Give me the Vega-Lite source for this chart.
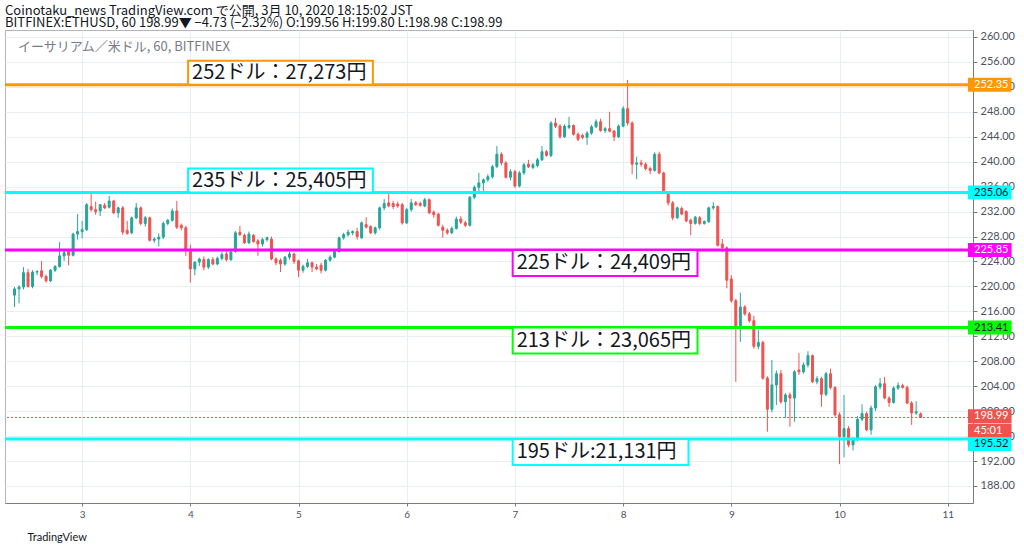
{
  "$schema": "https://vega.github.io/schema/vega-lite/v6.json",
  "description": "ETH/USD 1h candles on Bitfinex, 2-10 March 2020, with marked price levels",
  "autosize": {"type": "none"},
  "width": 968,
  "height": 473,
  "padding": {"left": 5, "top": 30, "right": 51, "bottom": 49},
  "background": "white",
  "title": {
    "text": "Coinotaku_news TradingView.com で公開, 3月 10, 2020 18:15:02 JST",
    "subtitle": "BITFINEX:ETHUSD, 60 198.99▼ −4.73 (−2.32%) O:199.56 H:199.80 L:198.98 C:198.99",
    "anchor": "start",
    "frame": "group",
    "offset": 0,
    "font": "Noto Sans CJK JP",
    "fontSize": 13,
    "fontWeight": "normal",
    "color": "#131722",
    "subtitleFont": "Noto Sans CJK JP",
    "subtitleFontSize": 13,
    "subtitleColor": "#131722",
    "subtitlePadding": -1
  },
  "config": {
    "view": {"stroke": "#b2b5be"},
    "axisY": {"labelOverlap": false, "labelSeparation": 0, "labelBound": false}
  },
  "datasets": {
    "candles": [
      {"t": "2020-03-02T09:00", "o": 218.6, "h": 219.9, "l": 216.7, "c": 219.6},
      {"t": "2020-03-02T10:00", "o": 219.6, "h": 220.2, "l": 217.3, "c": 219.9},
      {"t": "2020-03-02T11:00", "o": 219.9, "h": 223.1, "l": 219.5, "c": 222.2},
      {"t": "2020-03-02T12:00", "o": 222.2, "h": 222.8, "l": 219.8, "c": 220.0},
      {"t": "2020-03-02T13:00", "o": 220.0, "h": 222.6, "l": 219.7, "c": 222.3},
      {"t": "2020-03-02T14:00", "o": 222.3, "h": 222.6, "l": 221.8, "c": 222.4},
      {"t": "2020-03-02T15:00", "o": 222.5, "h": 224.1, "l": 221.3, "c": 221.6},
      {"t": "2020-03-02T16:00", "o": 221.6, "h": 221.9, "l": 220.6, "c": 220.9},
      {"t": "2020-03-02T17:00", "o": 220.9, "h": 222.8, "l": 220.7, "c": 222.6},
      {"t": "2020-03-02T18:00", "o": 222.6, "h": 223.4, "l": 222.3, "c": 223.2},
      {"t": "2020-03-02T19:00", "o": 223.2, "h": 227.1, "l": 223.0, "c": 224.9},
      {"t": "2020-03-02T20:00", "o": 224.9, "h": 225.7, "l": 224.1, "c": 225.4},
      {"t": "2020-03-02T21:00", "o": 225.6, "h": 226.0, "l": 223.4, "c": 225.0},
      {"t": "2020-03-02T22:00", "o": 225.0, "h": 228.6, "l": 224.8, "c": 228.4},
      {"t": "2020-03-02T23:00", "o": 228.4, "h": 231.6, "l": 227.5, "c": 228.8},
      {"t": "2020-03-03T00:00", "o": 228.8, "h": 230.5, "l": 227.7, "c": 229.1},
      {"t": "2020-03-03T01:00", "o": 229.1, "h": 233.4, "l": 228.9, "c": 233.1},
      {"t": "2020-03-03T02:00", "o": 232.8, "h": 235.3, "l": 232.0, "c": 232.3},
      {"t": "2020-03-03T03:00", "o": 232.3, "h": 233.6, "l": 231.5, "c": 232.0},
      {"t": "2020-03-03T04:00", "o": 232.1, "h": 233.2, "l": 231.3, "c": 233.1},
      {"t": "2020-03-03T05:00", "o": 233.0, "h": 233.4, "l": 232.4, "c": 232.6},
      {"t": "2020-03-03T06:00", "o": 232.7, "h": 234.5, "l": 232.5, "c": 233.7},
      {"t": "2020-03-03T07:00", "o": 233.7, "h": 233.9, "l": 231.6, "c": 231.8},
      {"t": "2020-03-03T08:00", "o": 231.8, "h": 232.8, "l": 231.0, "c": 232.6},
      {"t": "2020-03-03T09:00", "o": 232.6, "h": 232.9, "l": 228.3, "c": 228.7},
      {"t": "2020-03-03T10:00", "o": 229.0, "h": 230.5, "l": 228.3, "c": 228.5},
      {"t": "2020-03-03T11:00", "o": 228.6, "h": 231.2, "l": 228.4, "c": 231.0},
      {"t": "2020-03-03T12:00", "o": 231.0, "h": 233.4, "l": 230.8, "c": 232.6},
      {"t": "2020-03-03T13:00", "o": 232.6, "h": 232.8, "l": 229.8, "c": 230.1},
      {"t": "2020-03-03T14:00", "o": 230.1, "h": 231.3, "l": 229.6, "c": 231.0},
      {"t": "2020-03-03T15:00", "o": 231.0, "h": 231.2, "l": 227.2, "c": 227.4},
      {"t": "2020-03-03T16:00", "o": 227.4, "h": 227.9, "l": 227.0, "c": 227.6},
      {"t": "2020-03-03T17:00", "o": 227.6, "h": 228.5, "l": 226.4, "c": 227.9},
      {"t": "2020-03-03T18:00", "o": 227.9, "h": 230.4, "l": 227.6, "c": 230.1},
      {"t": "2020-03-03T19:00", "o": 230.1, "h": 230.8, "l": 229.8, "c": 230.6},
      {"t": "2020-03-03T20:00", "o": 230.6, "h": 232.5, "l": 230.4, "c": 232.1},
      {"t": "2020-03-03T21:00", "o": 232.1, "h": 233.7, "l": 229.2, "c": 229.5},
      {"t": "2020-03-03T22:00", "o": 229.8, "h": 230.1, "l": 229.0, "c": 229.4},
      {"t": "2020-03-03T23:00", "o": 229.4, "h": 229.7, "l": 224.9, "c": 226.0},
      {"t": "2020-03-04T00:00", "o": 225.8, "h": 226.7, "l": 220.6, "c": 222.8},
      {"t": "2020-03-04T01:00", "o": 222.8, "h": 224.0, "l": 221.8, "c": 223.9},
      {"t": "2020-03-04T02:00", "o": 223.9, "h": 224.6, "l": 223.3, "c": 224.4},
      {"t": "2020-03-04T03:00", "o": 224.3, "h": 224.8, "l": 222.6, "c": 223.1},
      {"t": "2020-03-04T04:00", "o": 223.1, "h": 224.5, "l": 222.8, "c": 224.3},
      {"t": "2020-03-04T05:00", "o": 224.3, "h": 224.7, "l": 223.4, "c": 223.6},
      {"t": "2020-03-04T06:00", "o": 223.6, "h": 224.8, "l": 223.4, "c": 224.5},
      {"t": "2020-03-04T07:00", "o": 224.5, "h": 225.5, "l": 224.2, "c": 225.1},
      {"t": "2020-03-04T08:00", "o": 225.2, "h": 225.6, "l": 224.0, "c": 224.3},
      {"t": "2020-03-04T09:00", "o": 224.3, "h": 225.8, "l": 224.1, "c": 225.5},
      {"t": "2020-03-04T10:00", "o": 225.6, "h": 228.9, "l": 225.4, "c": 228.6},
      {"t": "2020-03-04T11:00", "o": 228.7, "h": 229.7, "l": 228.1, "c": 228.3},
      {"t": "2020-03-04T12:00", "o": 228.2, "h": 228.5, "l": 226.8, "c": 227.0},
      {"t": "2020-03-04T13:00", "o": 227.0, "h": 228.8, "l": 226.8, "c": 228.4},
      {"t": "2020-03-04T14:00", "o": 228.2, "h": 228.4, "l": 227.0, "c": 227.2},
      {"t": "2020-03-04T15:00", "o": 227.3, "h": 227.6, "l": 224.9, "c": 226.8},
      {"t": "2020-03-04T16:00", "o": 226.8, "h": 227.8, "l": 226.4, "c": 227.5},
      {"t": "2020-03-04T17:00", "o": 227.5, "h": 228.0, "l": 227.2, "c": 227.8},
      {"t": "2020-03-04T18:00", "o": 227.6, "h": 228.0, "l": 224.2, "c": 224.4},
      {"t": "2020-03-04T19:00", "o": 224.4, "h": 224.7, "l": 223.4, "c": 223.8},
      {"t": "2020-03-04T20:00", "o": 224.2, "h": 224.5, "l": 222.3, "c": 223.6},
      {"t": "2020-03-04T21:00", "o": 223.6, "h": 224.9, "l": 223.3, "c": 224.7},
      {"t": "2020-03-04T22:00", "o": 224.7, "h": 225.6, "l": 224.3, "c": 225.2},
      {"t": "2020-03-04T23:00", "o": 225.2, "h": 225.4, "l": 223.6, "c": 224.0},
      {"t": "2020-03-05T00:00", "o": 224.1, "h": 224.3, "l": 221.5, "c": 222.6},
      {"t": "2020-03-05T01:00", "o": 222.6, "h": 223.5, "l": 222.2, "c": 223.2},
      {"t": "2020-03-05T02:00", "o": 223.2, "h": 224.4, "l": 222.9, "c": 223.8},
      {"t": "2020-03-05T03:00", "o": 223.8, "h": 224.0, "l": 222.3, "c": 223.1},
      {"t": "2020-03-05T04:00", "o": 223.1, "h": 223.6, "l": 222.6, "c": 222.8},
      {"t": "2020-03-05T05:00", "o": 223.4, "h": 223.8, "l": 222.1, "c": 222.6},
      {"t": "2020-03-05T06:00", "o": 222.6, "h": 224.4, "l": 222.4, "c": 224.2},
      {"t": "2020-03-05T07:00", "o": 224.2, "h": 225.0, "l": 224.0, "c": 224.7},
      {"t": "2020-03-05T08:00", "o": 224.7, "h": 225.9, "l": 224.5, "c": 225.6},
      {"t": "2020-03-05T09:00", "o": 225.6, "h": 228.0, "l": 225.4, "c": 227.8},
      {"t": "2020-03-05T10:00", "o": 227.8, "h": 228.6, "l": 227.5, "c": 228.3},
      {"t": "2020-03-05T11:00", "o": 228.3, "h": 229.1, "l": 228.0, "c": 228.7},
      {"t": "2020-03-05T12:00", "o": 228.6, "h": 229.0, "l": 228.2, "c": 228.8},
      {"t": "2020-03-05T13:00", "o": 228.8, "h": 229.4, "l": 227.5, "c": 228.0},
      {"t": "2020-03-05T14:00", "o": 227.8, "h": 230.4, "l": 227.6, "c": 230.2},
      {"t": "2020-03-05T15:00", "o": 229.9, "h": 231.1, "l": 229.3, "c": 229.5},
      {"t": "2020-03-05T16:00", "o": 229.6, "h": 229.8, "l": 228.4, "c": 228.6},
      {"t": "2020-03-05T17:00", "o": 228.6, "h": 229.6, "l": 228.3, "c": 229.4},
      {"t": "2020-03-05T18:00", "o": 229.4, "h": 232.8, "l": 229.1, "c": 232.6},
      {"t": "2020-03-05T19:00", "o": 232.6, "h": 234.0, "l": 232.2, "c": 233.3},
      {"t": "2020-03-05T20:00", "o": 233.4, "h": 235.3, "l": 232.7, "c": 232.9},
      {"t": "2020-03-05T21:00", "o": 233.3, "h": 233.7, "l": 232.4, "c": 232.8},
      {"t": "2020-03-05T22:00", "o": 233.2, "h": 233.6, "l": 232.6, "c": 232.9},
      {"t": "2020-03-05T23:00", "o": 233.1, "h": 233.4, "l": 229.9, "c": 230.2},
      {"t": "2020-03-06T00:00", "o": 230.2, "h": 232.6, "l": 230.0, "c": 232.3},
      {"t": "2020-03-06T01:00", "o": 232.3, "h": 234.0, "l": 232.0, "c": 233.4},
      {"t": "2020-03-06T02:00", "o": 233.4, "h": 233.7, "l": 232.9, "c": 233.1},
      {"t": "2020-03-06T03:00", "o": 233.3, "h": 233.6, "l": 232.8, "c": 233.0},
      {"t": "2020-03-06T04:00", "o": 232.9, "h": 234.2, "l": 232.7, "c": 233.9},
      {"t": "2020-03-06T05:00", "o": 233.9, "h": 234.1, "l": 231.6, "c": 231.8},
      {"t": "2020-03-06T06:00", "o": 231.9, "h": 232.2, "l": 231.0, "c": 231.5},
      {"t": "2020-03-06T07:00", "o": 231.6, "h": 231.8, "l": 229.6, "c": 229.8},
      {"t": "2020-03-06T08:00", "o": 229.5, "h": 229.9, "l": 227.8, "c": 229.0},
      {"t": "2020-03-06T09:00", "o": 229.0, "h": 229.3, "l": 228.3, "c": 228.6},
      {"t": "2020-03-06T10:00", "o": 228.6, "h": 229.6, "l": 228.4, "c": 229.3},
      {"t": "2020-03-06T11:00", "o": 229.3, "h": 231.2, "l": 229.1, "c": 230.8},
      {"t": "2020-03-06T12:00", "o": 230.8, "h": 231.3, "l": 230.0, "c": 230.3},
      {"t": "2020-03-06T13:00", "o": 230.2, "h": 230.5, "l": 229.5, "c": 229.8},
      {"t": "2020-03-06T14:00", "o": 229.8, "h": 234.5, "l": 229.6, "c": 234.3},
      {"t": "2020-03-06T15:00", "o": 234.3, "h": 236.2, "l": 234.0, "c": 235.9},
      {"t": "2020-03-06T16:00", "o": 235.9, "h": 238.2, "l": 235.1, "c": 236.6},
      {"t": "2020-03-06T17:00", "o": 236.6, "h": 237.3, "l": 235.0, "c": 237.1},
      {"t": "2020-03-06T18:00", "o": 237.1, "h": 238.0, "l": 236.8, "c": 237.6},
      {"t": "2020-03-06T19:00", "o": 237.6, "h": 239.5, "l": 237.3, "c": 239.2},
      {"t": "2020-03-06T20:00", "o": 239.2, "h": 242.5, "l": 239.0, "c": 241.2},
      {"t": "2020-03-06T21:00", "o": 241.2, "h": 241.5, "l": 239.4, "c": 239.8},
      {"t": "2020-03-06T22:00", "o": 239.8, "h": 240.1, "l": 237.3, "c": 237.5},
      {"t": "2020-03-06T23:00", "o": 237.5, "h": 238.8, "l": 237.0, "c": 238.4},
      {"t": "2020-03-07T00:00", "o": 238.4, "h": 238.7, "l": 235.8, "c": 236.1},
      {"t": "2020-03-07T01:00", "o": 236.1, "h": 238.5, "l": 235.9, "c": 238.2},
      {"t": "2020-03-07T02:00", "o": 238.2, "h": 239.8, "l": 237.9, "c": 239.5},
      {"t": "2020-03-07T03:00", "o": 239.6, "h": 240.3, "l": 239.0, "c": 239.2},
      {"t": "2020-03-07T04:00", "o": 239.1, "h": 239.8, "l": 238.8, "c": 239.5},
      {"t": "2020-03-07T05:00", "o": 239.4, "h": 240.6, "l": 239.1, "c": 240.3},
      {"t": "2020-03-07T06:00", "o": 240.3, "h": 242.5, "l": 240.1, "c": 241.6},
      {"t": "2020-03-07T07:00", "o": 241.6, "h": 241.9, "l": 240.8, "c": 241.0},
      {"t": "2020-03-07T08:00", "o": 241.0, "h": 246.5, "l": 240.7, "c": 246.2},
      {"t": "2020-03-07T09:00", "o": 246.2, "h": 247.0, "l": 245.4, "c": 245.7},
      {"t": "2020-03-07T10:00", "o": 245.7, "h": 246.0, "l": 243.7, "c": 244.0},
      {"t": "2020-03-07T11:00", "o": 244.0, "h": 246.0, "l": 243.8, "c": 245.7},
      {"t": "2020-03-07T12:00", "o": 245.5, "h": 247.2, "l": 245.2, "c": 245.8},
      {"t": "2020-03-07T13:00", "o": 245.8, "h": 246.0, "l": 244.2, "c": 244.4},
      {"t": "2020-03-07T14:00", "o": 244.4, "h": 244.7, "l": 243.3, "c": 243.6},
      {"t": "2020-03-07T15:00", "o": 244.2, "h": 244.5, "l": 243.6, "c": 243.9},
      {"t": "2020-03-07T16:00", "o": 243.9, "h": 244.9, "l": 242.7, "c": 244.6},
      {"t": "2020-03-07T17:00", "o": 244.6, "h": 245.9, "l": 244.3, "c": 245.6},
      {"t": "2020-03-07T18:00", "o": 245.6, "h": 246.8, "l": 245.4, "c": 246.4},
      {"t": "2020-03-07T19:00", "o": 246.4, "h": 246.9, "l": 244.8, "c": 245.0},
      {"t": "2020-03-07T20:00", "o": 245.0, "h": 245.6, "l": 244.6, "c": 245.3},
      {"t": "2020-03-07T21:00", "o": 245.3, "h": 248.0, "l": 244.7, "c": 244.9},
      {"t": "2020-03-07T22:00", "o": 244.9, "h": 245.1, "l": 243.3, "c": 244.0},
      {"t": "2020-03-07T23:00", "o": 244.0, "h": 246.0, "l": 243.8, "c": 245.7},
      {"t": "2020-03-08T00:00", "o": 245.7, "h": 248.9, "l": 245.5, "c": 248.5},
      {"t": "2020-03-08T01:00", "o": 248.5, "h": 253.1, "l": 245.8, "c": 246.2},
      {"t": "2020-03-08T02:00", "o": 246.2, "h": 246.5, "l": 238.0, "c": 239.6},
      {"t": "2020-03-08T03:00", "o": 239.6, "h": 240.8, "l": 237.2, "c": 239.8},
      {"t": "2020-03-08T04:00", "o": 239.8, "h": 240.3, "l": 239.2, "c": 239.6},
      {"t": "2020-03-08T05:00", "o": 239.6, "h": 239.9, "l": 238.6, "c": 238.9},
      {"t": "2020-03-08T06:00", "o": 238.9, "h": 239.2, "l": 238.0, "c": 238.6},
      {"t": "2020-03-08T07:00", "o": 238.6, "h": 241.5, "l": 238.4, "c": 241.2},
      {"t": "2020-03-08T08:00", "o": 241.2, "h": 241.6, "l": 238.0, "c": 238.2},
      {"t": "2020-03-08T09:00", "o": 238.2, "h": 238.4, "l": 234.8, "c": 235.0},
      {"t": "2020-03-08T10:00", "o": 235.0, "h": 235.2, "l": 233.0, "c": 233.4},
      {"t": "2020-03-08T11:00", "o": 233.4, "h": 233.7, "l": 230.6, "c": 231.0},
      {"t": "2020-03-08T12:00", "o": 231.0, "h": 232.8, "l": 230.8, "c": 232.6},
      {"t": "2020-03-08T13:00", "o": 232.5, "h": 232.8, "l": 231.4, "c": 231.6},
      {"t": "2020-03-08T14:00", "o": 232.0, "h": 232.2, "l": 230.3, "c": 230.5},
      {"t": "2020-03-08T15:00", "o": 230.6, "h": 230.9, "l": 228.2, "c": 230.1},
      {"t": "2020-03-08T16:00", "o": 230.1, "h": 231.3, "l": 229.9, "c": 231.1},
      {"t": "2020-03-08T17:00", "o": 231.0, "h": 231.3, "l": 229.8, "c": 230.1},
      {"t": "2020-03-08T18:00", "o": 230.1, "h": 230.6, "l": 229.9, "c": 230.4},
      {"t": "2020-03-08T19:00", "o": 230.4, "h": 232.8, "l": 230.2, "c": 232.6},
      {"t": "2020-03-08T20:00", "o": 232.6, "h": 233.5, "l": 232.3, "c": 232.8},
      {"t": "2020-03-08T21:00", "o": 232.8, "h": 233.0, "l": 226.4, "c": 226.6},
      {"t": "2020-03-08T22:00", "o": 226.8, "h": 227.6, "l": 225.5, "c": 226.2},
      {"t": "2020-03-08T23:00", "o": 226.2, "h": 226.4, "l": 219.7, "c": 221.0},
      {"t": "2020-03-09T00:00", "o": 221.2, "h": 221.8, "l": 217.4, "c": 217.7},
      {"t": "2020-03-09T01:00", "o": 217.7, "h": 218.0, "l": 204.7, "c": 213.5},
      {"t": "2020-03-09T02:00", "o": 213.5, "h": 219.0, "l": 211.1, "c": 216.7},
      {"t": "2020-03-09T03:00", "o": 216.7, "h": 217.0, "l": 215.3, "c": 215.6},
      {"t": "2020-03-09T04:00", "o": 215.6, "h": 215.9, "l": 214.2, "c": 214.5},
      {"t": "2020-03-09T05:00", "o": 214.5, "h": 215.3, "l": 210.0, "c": 210.4},
      {"t": "2020-03-09T06:00", "o": 210.4, "h": 213.0, "l": 209.9, "c": 211.0},
      {"t": "2020-03-09T07:00", "o": 211.0, "h": 211.3, "l": 205.0, "c": 205.3},
      {"t": "2020-03-09T08:00", "o": 205.3, "h": 205.6, "l": 196.7, "c": 200.3},
      {"t": "2020-03-09T09:00", "o": 200.3, "h": 208.2, "l": 199.8, "c": 204.2},
      {"t": "2020-03-09T10:00", "o": 204.2, "h": 206.5, "l": 201.0, "c": 206.0},
      {"t": "2020-03-09T11:00", "o": 206.0, "h": 206.6, "l": 201.2, "c": 201.5},
      {"t": "2020-03-09T12:00", "o": 201.5, "h": 202.9, "l": 198.9, "c": 202.6},
      {"t": "2020-03-09T13:00", "o": 202.6, "h": 203.0, "l": 197.5, "c": 202.1},
      {"t": "2020-03-09T14:00", "o": 202.1, "h": 206.6, "l": 198.3, "c": 206.3},
      {"t": "2020-03-09T15:00", "o": 206.6, "h": 209.3, "l": 205.8, "c": 206.3},
      {"t": "2020-03-09T16:00", "o": 206.3, "h": 207.8, "l": 206.0, "c": 207.4},
      {"t": "2020-03-09T17:00", "o": 207.4, "h": 209.6, "l": 207.0, "c": 208.9},
      {"t": "2020-03-09T18:00", "o": 208.9, "h": 209.1, "l": 204.5, "c": 204.7},
      {"t": "2020-03-09T19:00", "o": 204.7, "h": 205.6, "l": 204.3, "c": 205.2},
      {"t": "2020-03-09T20:00", "o": 205.2, "h": 205.5, "l": 200.7, "c": 202.7},
      {"t": "2020-03-09T21:00", "o": 202.7, "h": 206.3, "l": 202.4, "c": 206.0},
      {"t": "2020-03-09T22:00", "o": 206.0, "h": 206.8, "l": 203.5, "c": 203.8},
      {"t": "2020-03-09T23:00", "o": 203.8, "h": 204.0, "l": 199.1, "c": 199.4},
      {"t": "2020-03-10T00:00", "o": 199.4, "h": 199.8, "l": 191.5, "c": 195.9},
      {"t": "2020-03-10T01:00", "o": 195.9, "h": 202.6, "l": 192.6, "c": 197.2},
      {"t": "2020-03-10T02:00", "o": 197.2, "h": 197.6, "l": 194.2, "c": 194.6},
      {"t": "2020-03-10T03:00", "o": 194.6, "h": 195.8, "l": 193.7, "c": 195.5},
      {"t": "2020-03-10T04:00", "o": 195.5, "h": 199.2, "l": 195.2, "c": 198.7},
      {"t": "2020-03-10T05:00", "o": 198.7, "h": 201.1, "l": 198.4, "c": 199.6},
      {"t": "2020-03-10T06:00", "o": 199.6, "h": 199.9, "l": 196.8, "c": 197.0},
      {"t": "2020-03-10T07:00", "o": 197.0, "h": 200.9, "l": 196.2, "c": 200.5},
      {"t": "2020-03-10T08:00", "o": 200.5, "h": 204.2, "l": 200.0, "c": 203.9},
      {"t": "2020-03-10T09:00", "o": 203.9, "h": 205.3, "l": 203.5, "c": 204.4},
      {"t": "2020-03-10T10:00", "o": 204.4, "h": 205.5, "l": 201.9, "c": 202.1},
      {"t": "2020-03-10T11:00", "o": 202.1, "h": 202.4, "l": 200.7, "c": 201.4},
      {"t": "2020-03-10T12:00", "o": 201.4, "h": 204.0, "l": 201.2, "c": 203.7},
      {"t": "2020-03-10T13:00", "o": 203.7, "h": 204.6, "l": 203.4, "c": 204.1},
      {"t": "2020-03-10T14:00", "o": 204.1, "h": 204.4, "l": 203.6, "c": 203.8},
      {"t": "2020-03-10T15:00", "o": 203.8, "h": 204.1, "l": 201.1, "c": 201.3},
      {"t": "2020-03-10T16:00", "o": 201.3, "h": 201.6, "l": 197.8, "c": 199.7},
      {"t": "2020-03-10T17:00", "o": 199.7, "h": 201.6, "l": 199.4, "c": 199.9},
      {"t": "2020-03-10T18:00", "o": 199.56, "h": 199.8, "l": 198.98, "c": 198.99}
    ],
    "levels": [
      {"name": "252", "price": 252.35, "label": "252ドル：27,273円", "from": "2020-03-03T23:30", "to": "2020-03-05T16:30", "side": "above"},
      {"name": "235", "price": 235.06, "label": "235ドル：25,405円", "from": "2020-03-03T23:30", "to": "2020-03-05T16:30", "side": "above"},
      {"name": "225", "price": 225.85, "label": "225ドル：24,409円", "from": "2020-03-06T23:30", "to": "2020-03-08T16:30", "side": "below"},
      {"name": "213", "price": 213.41, "label": "213ドル：23,065円", "from": "2020-03-06T23:30", "to": "2020-03-08T16:30", "side": "below"},
      {"name": "195", "price": 195.52, "label": "195ドル:21,131円", "from": "2020-03-06T23:30", "to": "2020-03-08T14:30", "side": "below"}
    ],
    "tags": [
      {"name": "252", "tag": "252.35", "at": 252.35},
      {"name": "235", "tag": "235.06", "at": 235.06},
      {"name": "225", "tag": "225.85", "at": 225.85},
      {"name": "213", "tag": "213.41", "at": 213.41},
      {"name": "last", "tag": "198.99", "at": 199.2},
      {"name": "timer", "tag": "45:01", "at": 196.85},
      {"name": "195", "tag": "195.52", "at": 194.75}
    ]
  },
  "layer": [
    {
      "data": {"name": "candles"},
      "mark": {"type": "rule", "strokeWidth": 1, "clip": true},
      "encoding": {
        "x": {
          "field": "t",
          "type": "temporal",
          "scale": {
            "domain": [
              {"year": 2020, "month": 3, "date": 2, "hours": 8},
              {"year": 2020, "month": 3, "date": 11, "hours": 4, "minutes": 30}
            ]
          },
          "axis": {
            "format": "%-d",
            "formatType": "time",
            "tickCount": {"interval": "day", "step": 1},
            "grid": true,
            "gridColor": "#e9eef4",
            "domainColor": "#787b86",
            "tickColor": "#787b86",
            "tickSize": 3,
            "labelFont": "Lato",
            "labelFontSize": 10,
            "labelColor": "#4c525e",
            "labelPadding": 3,
            "labelFlush": false,
            "title": "TradingView",
            "titleAnchor": "start",
            "titleAlign": "left",
            "titleBaseline": "middle",
            "titleX": 22,
            "titleY": 34,
            "titleFont": "Lato",
            "titleFontSize": 11,
            "titleFontWeight": "normal",
            "titleColor": "#131722"
          }
        },
        "y": {
          "field": "l",
          "type": "quantitative",
          "scale": {"domain": [185.27, 261.12], "nice": false, "zero": false},
          "axis": {
            "orient": "right",
            "values": [188, 192, 196, 200, 204, 208, 212, 216, 220, 224, 228, 232, 236, 240, 244, 248, 252, 256, 260],
            "tickCount": 19,
            "format": ".2f",
            "grid": true,
            "gridColor": "#e9eef4",
            "domainColor": "#787b86",
            "tickColor": "#787b86",
            "tickSize": 4,
            "labelFont": "Lato",
            "labelFontSize": 11,
            "labelColor": "#4c525e",
            "labelPadding": 3,
            "labelOverlap": false,
            "title": ""
          }
        },
        "y2": {"field": "h"},
        "color": {
          "condition": {"test": "datum.c >= datum.o", "value": "#26a69a"},
          "value": "#ef5350"
        }
      }
    },
    {
      "data": {"name": "candles"},
      "mark": {"type": "bar", "size": 2, "strokeWidth": 1, "clip": true},
      "encoding": {
        "x": {"field": "t", "type": "temporal"},
        "y": {"field": "o", "type": "quantitative"},
        "y2": {"field": "c"},
        "fill": {
          "condition": {"test": "datum.c >= datum.o", "value": "#26a69a"},
          "value": "#ef5350"
        },
        "stroke": {
          "condition": {"test": "datum.c >= datum.o", "value": "#26a69a"},
          "value": "#ef5350"
        }
      }
    },
    {
      "data": {"values": [{"price": 198.99}]},
      "mark": {"type": "rule", "color": "#ef5350", "strokeWidth": 1, "strokeDash": [2, 2]},
      "encoding": {
        "y": {"field": "price", "type": "quantitative"}
      }
    },
    {
      "data": {"name": "levels"},
      "mark": {"type": "rule", "strokeWidth": 3},
      "encoding": {
        "y": {"field": "price", "type": "quantitative"},
        "color": {
          "field": "name",
          "type": "nominal",
          "legend": null,
          "scale": {
            "domain": ["252", "235", "225", "213", "195", "last", "timer"],
            "range": ["#ff9800", "#00ffff", "#ff00ff", "#00ff00", "#00ffff", "#ef5350", "#ef5350"]
          }
        }
      }
    },
    {
      "data": {"name": "levels"},
      "transform": [{"filter": "datum.side == 'above'"}],
      "mark": {"type": "rect", "fill": "white", "strokeWidth": 2, "y2Offset": -24},
      "encoding": {
        "x": {"field": "from", "type": "temporal"},
        "x2": {"field": "to"},
        "y": {"field": "price", "type": "quantitative"},
        "y2": {"field": "price"},
        "stroke": {
          "field": "name",
          "type": "nominal",
          "legend": null,
          "scale": {
            "domain": ["252", "235", "225", "213", "195", "last", "timer"],
            "range": ["#ff9800", "#00ffff", "#ff00ff", "#00ff00", "#00ffff", "#ef5350", "#ef5350"]
          }
        }
      }
    },
    {
      "data": {"name": "levels"},
      "transform": [{"filter": "datum.side == 'below'"}],
      "mark": {"type": "rect", "fill": "white", "strokeWidth": 2, "y2Offset": 26},
      "encoding": {
        "x": {"field": "from", "type": "temporal"},
        "x2": {"field": "to"},
        "y": {"field": "price", "type": "quantitative"},
        "y2": {"field": "price"},
        "stroke": {"field": "name", "type": "nominal", "legend": null}
      }
    },
    {
      "data": {"name": "levels"},
      "transform": [{"filter": "datum.side == 'above'"}],
      "mark": {"type": "text", "align": "left", "baseline": "middle", "xOffset": 4, "yOffset": -12, "font": "Noto Sans CJK JP", "fontSize": 20, "color": "#131722"},
      "encoding": {
        "x": {"field": "from", "type": "temporal"},
        "y": {"field": "price", "type": "quantitative"},
        "text": {"field": "label"}
      }
    },
    {
      "data": {"name": "levels"},
      "transform": [{"filter": "datum.side == 'below'"}],
      "mark": {"type": "text", "align": "left", "baseline": "middle", "xOffset": 4, "yOffset": 13, "font": "Noto Sans CJK JP", "fontSize": 20, "color": "#131722"},
      "encoding": {
        "x": {"field": "from", "type": "temporal"},
        "y": {"field": "price", "type": "quantitative"},
        "text": {"field": "label"}
      }
    },
    {
      "data": {"name": "tags"},
      "mark": {"type": "rule", "strokeWidth": 14, "strokeCap": "butt", "clip": false},
      "encoding": {
        "x": {"datum": {"year": 2020, "month": 3, "date": 11, "hours": 4, "minutes": 30}, "type": "temporal"},
        "x2": {"datum": {"year": 2020, "month": 3, "date": 11, "hours": 14, "minutes": 10}},
        "y": {"field": "at", "type": "quantitative"},
        "color": {"field": "name", "type": "nominal", "legend": null}
      }
    },
    {
      "data": {"name": "tags"},
      "mark": {"type": "text", "align": "left", "baseline": "middle", "xOffset": 6, "font": "Lato", "fontSize": 11, "clip": false},
      "encoding": {
        "x": {"datum": {"year": 2020, "month": 3, "date": 11, "hours": 4, "minutes": 30}, "type": "temporal"},
        "y": {"field": "at", "type": "quantitative"},
        "text": {"field": "tag"},
        "color": {
          "condition": {"test": "indexof(['235', '213', '195'], datum.name) >= 0", "value": "#131722"},
          "value": "#ffffff"
        }
      }
    },
    {
      "data": {"values": [{"caption": "イーサリアム／米ドル, 60, BITFINEX"}]},
      "mark": {"type": "text", "align": "left", "baseline": "middle", "font": "Noto Sans CJK JP", "fontSize": 13, "color": "#787b86"},
      "encoding": {
        "x": {"datum": {"year": 2020, "month": 3, "date": 2, "hours": 9, "minutes": 45}, "type": "temporal"},
        "y": {"datum": 258.4, "type": "quantitative"},
        "text": {"field": "caption"}
      }
    }
  ]
}
